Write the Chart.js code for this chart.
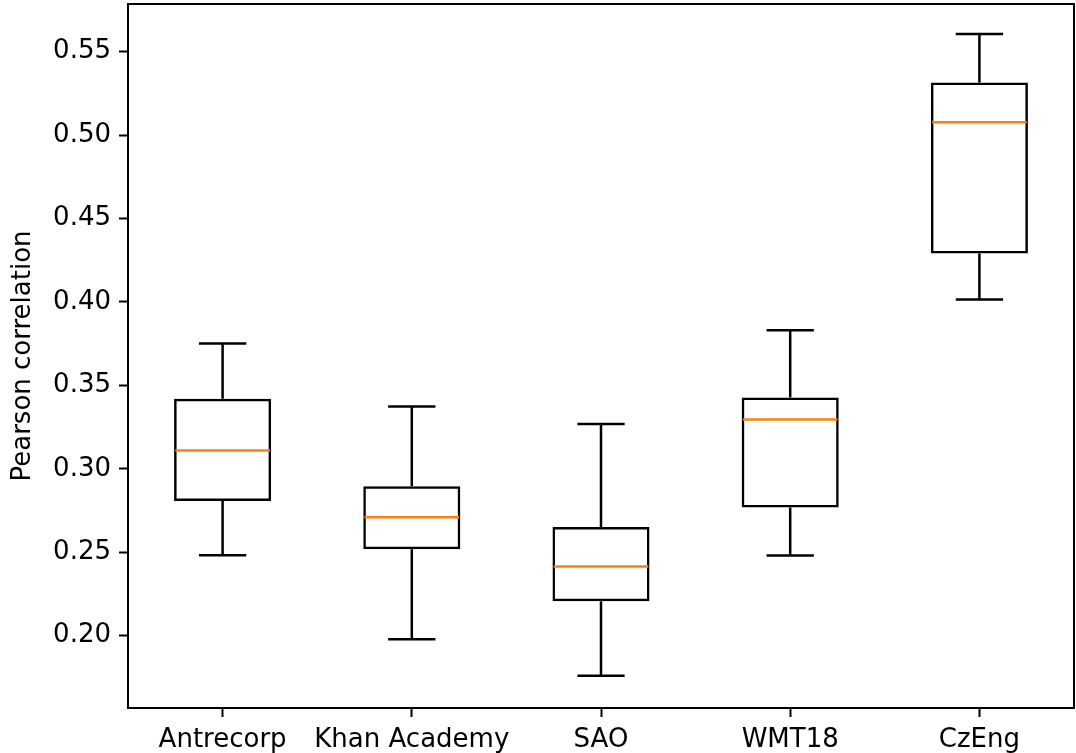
<!DOCTYPE html>
<html>
<head>
<meta charset="utf-8">
<script src="https://cdn.jsdelivr.net/npm/chart.js@4/dist/chart.umd.min.js"></script>
<style>
  body { margin: 0; background: #fff; }
  canvas { display: block; }
</style>
</head>
<body>
<canvas id="corrChart" width="1076" height="753"></canvas>
<script>
// Box plot summary per corpus
var categories = ['Antrecorp', 'Khan Academy', 'SAO', 'WMT18', 'CzEng'];
var whiskerLow  = [0.2481, 0.1978, 0.1760, 0.2480, 0.4015];
var quartile1   = [0.2807, 0.2517, 0.2206, 0.2768, 0.4291];
var medians     = [0.3109, 0.2709, 0.2414, 0.3295, 0.5077];
var quartile3   = [0.3419, 0.2895, 0.2651, 0.3427, 0.5316];
var whiskerHigh = [0.3751, 0.3373, 0.3269, 0.3831, 0.5606];
var yTicks = [0.20, 0.25, 0.30, 0.35, 0.40, 0.45, 0.50, 0.55];

var lineW = 2.5;
var spineW = 2;
var font = { family: 'DejaVu Sans', size: 26 };

// whiskers, caps and medians on top of the boxes
var whiskerPlugin = {
  id: 'whiskers',
  afterDatasetsDraw: function(chart) {
    var ctx = chart.ctx;
    var xs = chart.scales.x;
    var ys = chart.scales.y;
    var catW = xs.width / categories.length;
    ctx.save();
    ctx.lineWidth = lineW;
    ctx.lineCap = 'butt';
    for (var i = 0; i < categories.length; i++) {
      var x = xs.getPixelForValue(i);
      var cap = catW * 0.125;
      var half = catW * 0.25;
      ctx.strokeStyle = '#000';
      ctx.beginPath();
      ctx.moveTo(x, ys.getPixelForValue(quartile1[i]));
      ctx.lineTo(x, ys.getPixelForValue(whiskerLow[i]));
      ctx.moveTo(x, ys.getPixelForValue(quartile3[i]));
      ctx.lineTo(x, ys.getPixelForValue(whiskerHigh[i]));
      ctx.moveTo(x - cap, ys.getPixelForValue(whiskerLow[i]));
      ctx.lineTo(x + cap, ys.getPixelForValue(whiskerLow[i]));
      ctx.moveTo(x - cap, ys.getPixelForValue(whiskerHigh[i]));
      ctx.lineTo(x + cap, ys.getPixelForValue(whiskerHigh[i]));
      ctx.stroke();
      ctx.strokeStyle = '#ff7f0e';
      ctx.beginPath();
      ctx.moveTo(x - half, ys.getPixelForValue(medians[i]));
      ctx.lineTo(x + half, ys.getPixelForValue(medians[i]));
      ctx.stroke();
    }
    ctx.restore();
  }
};

// full frame round the plot area
var framePlugin = {
  id: 'frame',
  afterDraw: function(chart) {
    var a = chart.chartArea;
    var ctx = chart.ctx;
    ctx.save();
    ctx.strokeStyle = '#000';
    ctx.lineWidth = spineW;
    ctx.strokeRect(a.left, a.top, a.right - a.left, a.bottom - a.top);
    ctx.restore();
  }
};

var boxData = categories.map(function(c, i) { return [quartile1[i], quartile3[i]]; });

var ctx = document.getElementById('corrChart').getContext('2d');
var corrChart = new Chart(ctx, {
  type: 'bar',
  data: {
    labels: categories,
    datasets: [{
      label: 'IQR',
      data: boxData,
      backgroundColor: 'rgba(0,0,0,0)',
      borderColor: '#000',
      borderWidth: lineW,
      borderSkipped: false,
      categoryPercentage: 1.0,
      barPercentage: 0.513
    }]
  },
  options: {
    responsive: false,
    animation: false,
    devicePixelRatio: 1,
    layout: { padding: { left: 0, top: 4, right: 2, bottom: 0 } },
    plugins: {
      legend: { display: false },
      tooltip: { enabled: false }
    },
    scales: {
      x: {
        offset: true,
        grid: { offset: false, drawOnChartArea: false, drawTicks: true, tickLength: 9, tickColor: '#000', tickWidth: spineW },
        border: { display: true, color: '#000', width: spineW },
        ticks: { color: '#000', font: font, padding: 8, maxRotation: 0, autoSkip: false },
        afterFit: function(scale) {
          scale.height = 45;
          scale.paddingLeft = 0;
          scale.paddingRight = 0;
        }
      },
      y: {
        min: 0.1566,
        max: 0.5786,
        afterBuildTicks: function(scale) {
          scale.ticks = yTicks.map(function(v) { return { value: v }; });
        },
        grid: { drawOnChartArea: false, drawTicks: true, tickLength: 9, tickColor: '#000', tickWidth: spineW },
        border: { display: true, color: '#000', width: spineW },
        ticks: {
          color: '#000',
          font: font,
          padding: 8,
          callback: function(v) { return Number(v).toFixed(2); }
        },
        title: {
          display: true,
          text: 'Pearson correlation',
          color: '#000',
          font: font,
          padding: { top: 8, bottom: 0 }
        },
        afterFit: function(scale) {
          scale.width = 128;
          scale.paddingTop = 0;
          scale.paddingBottom = 0;
        }
      }
    }
  },
  plugins: [whiskerPlugin, framePlugin]
});
</script>
</body>
</html>
